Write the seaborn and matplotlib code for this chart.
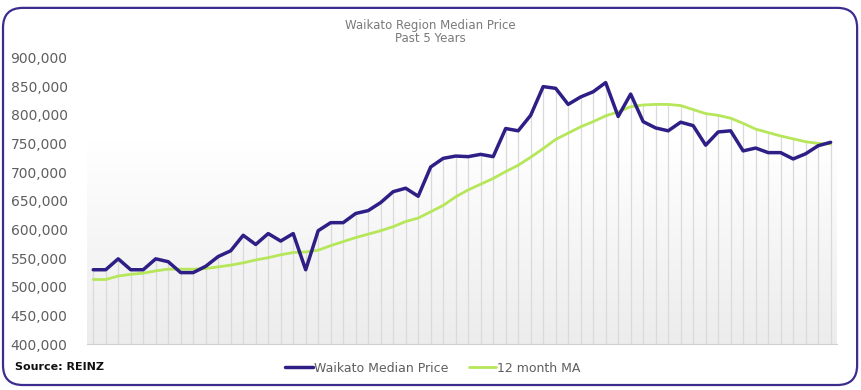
import matplotlib
matplotlib.use("Agg")
import matplotlib.pyplot as plt
from matplotlib.patches import FancyBboxPatch
from matplotlib.colors import LinearSegmentedColormap
from matplotlib.ticker import FuncFormatter
import numpy as np
import pandas as pd
import seaborn as sns

# monthly values, thousands of dollars, last 5 years
median_price = [530, 530, 549, 530, 530, 549, 544, 525, 525, 536, 553, 563,
                590, 574, 593, 580, 593, 530, 598, 612, 612, 628, 633, 647,
                666, 672, 658, 709, 724, 728, 727, 731, 727, 776, 772, 799,
                849, 846, 818, 831, 840, 856, 797, 836, 788, 777, 772, 787,
                781, 747, 770, 772, 737, 742, 734, 734, 723, 732, 746, 752]
moving_avg = [513, 513, 519, 522, 524, 528, 531, 531, 531, 532, 535, 538,
              542, 547, 551, 556, 560, 561, 564, 572, 579, 586, 592, 598,
              605, 614, 620, 631, 642, 657, 669, 679, 689, 701, 712, 726,
              741, 757, 768, 779, 788, 798, 805, 814, 817, 818, 818, 816,
              809, 802, 799, 794, 785, 775, 769, 763, 758, 753, 750, 749]

df = pd.DataFrame({
    "month": np.arange(len(median_price)),
    "median": np.array(median_price) * 1000,
    "ma": np.array(moving_avg) * 1000,
})

PURPLE = "#2e1f86"
GREEN = "#b6e65a"
GREY = "#5f5f5f"

sns.set_style("white")
plt.rcParams["font.family"] = ["DejaVu Sans"]

fig = plt.figure(figsize=(8.61, 3.9), dpi=100)
ax = fig.add_axes([0.101, 0.117, 0.871, 0.736])

# soft background gradient
cmap = LinearSegmentedColormap.from_list("bg", [(0, "#ffffff"), (0.3, "#ffffff"), (1, "#ececec")])
grad = np.linspace(0, 1, 256).reshape(-1, 1)
ax.imshow(grad, cmap=cmap, aspect="auto", extent=[-0.5, 59.5, 400000, 900000],
          origin="upper", zorder=0)

# drop lines
ax.vlines(df["month"], 400000, np.maximum(df["median"], df["ma"]),
          color="#dadada", lw=0.9, zorder=1)

sns.lineplot(data=df, x="month", y="median", ax=ax, color=PURPLE, lw=2.5,
             label="Waikato Median Price", zorder=3)
sns.lineplot(data=df, x="month", y="ma", ax=ax, color=GREEN, lw=2.0,
             label="12 month MA", zorder=2)

ax.set_xlim(-0.5, 59.5)
ax.set_ylim(400000, 900000)
ax.set_yticks(np.arange(400000, 900001, 50000))
ax.yaxis.set_major_formatter(FuncFormatter(lambda v, p: f"{int(v):,}"))
ax.set_xticks(np.arange(-0.5, 60, 1))
ax.set_xticklabels([])
ax.tick_params(axis="x", length=3, color="#d0d0d0", width=0.8)
ax.tick_params(axis="y", length=0, labelsize=10, labelcolor=GREY, pad=14)
ax.set_xlabel("")
ax.set_ylabel("")
for s in ["top", "right", "left"]:
    ax.spines[s].set_visible(False)
ax.spines["bottom"].set_color("#d0d0d0")
ax.grid(False)

ax.legend(loc="center", bbox_to_anchor=(433 / 861, 1 - 368 / 390),
          bbox_transform=fig.transFigure, ncol=2, frameon=False,
          fontsize=9, labelcolor=GREY, handlelength=2.2, handletextpad=0.1,
          columnspacing=1.6)

fig.text(0.5, 1 - 25 / 390, "Waikato Region Median Price", ha="center", va="center",
         fontsize=8.5, color="#7a7a7a")
fig.text(0.5, 1 - 39 / 390, "Past 5 Years", ha="center", va="center",
         fontsize=8.5, color="#7a7a7a")
fig.text(15 / 861, 1 - 367 / 390, "Source: REINZ", ha="left", va="center",
         fontsize=8, fontweight="bold", color="#111111")

border = FancyBboxPatch((0.0035, 0.0128), 0.992, 0.967,
                        boxstyle="round,pad=0,rounding_size=0.023",
                        mutation_aspect=861 / 390, transform=fig.transFigure,
                        fill=False, edgecolor="#3b2c8e", lw=1.6)
fig.patches.append(border)

fig.savefig("out.png", dpi=100)
